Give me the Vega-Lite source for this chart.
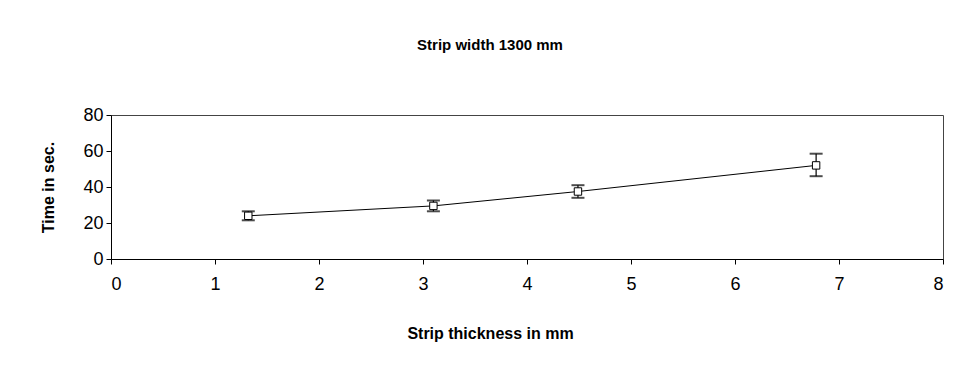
{
  "$schema": "https://vega.github.io/schema/vega-lite/v6.json",
  "width": 832,
  "height": 144,
  "autosize": {"type": "none"},
  "padding": {"left": 111, "top": 115, "right": 19, "bottom": 111},
  "background": "white",
  "title": {
    "text": "Strip width 1300 mm",
    "font": "Liberation Sans",
    "fontSize": 15,
    "fontWeight": "bold",
    "color": "black",
    "anchor": "middle",
    "dx": -37,
    "offset": 53
  },
  "config": {
    "view": {"stroke": "#444", "strokeWidth": 1},
    "axis": {
      "labelFont": "Liberation Sans",
      "labelFontSize": 18,
      "labelColor": "black",
      "labelOverlap": false,
      "titleFont": "Liberation Sans",
      "titleFontSize": 16,
      "titleFontWeight": "bold",
      "titleColor": "black",
      "domainColor": "black",
      "tickColor": "black",
      "grid": false
    }
  },
  "data": {
    "values": [
      {"t": 1.32, "time": 24, "lo": 21.5, "hi": 26.5},
      {"t": 3.1, "time": 29.5, "lo": 26.5, "hi": 32.5},
      {"t": 4.49, "time": 37.5, "lo": 34, "hi": 41},
      {"t": 6.78, "time": 52, "lo": 46, "hi": 58.5}
    ]
  },
  "encoding": {
    "x": {
      "field": "t",
      "type": "quantitative",
      "scale": {"domain": [0, 8], "nice": false},
      "axis": {"values": [0,1,2,3,4,5,6,7,8], "title": "Strip thickness in mm", "tickSize": 5, "labelFontSize": 18, "labelPadding": 11, "titleX": 379, "titlePadding": 32}
    }
  },
  "layer": [
    {
      "mark": {"type": "line", "color": "black", "strokeWidth": 1},
      "encoding": {
        "y": {
          "field": "time",
          "type": "quantitative",
          "scale": {"domain": [0, 80], "nice": false},
          "axis": {"values": [0,20,40,60,80], "labelOverlap": false, "labelFontSize": 18, "title": "Time in sec.", "tickSize": 5, "labelPadding": 3, "titlePadding": 26}
        }
      }
    },
    {
      "mark": {"type": "rule", "color": "black", "strokeWidth": 1.2},
      "encoding": {
        "y": {"field": "lo", "type": "quantitative", "axis": {"values": [0,20,40,60,80], "labelOverlap": false, "labelFontSize": 18, "title": "Time in sec.", "tickSize": 5, "labelPadding": 3, "titlePadding": 26}},
        "y2": {"field": "hi"}
      }
    },
    {
      "mark": {"type": "tick", "orient": "horizontal", "color": "black", "thickness": 2, "size": 13},
      "encoding": {"y": {"field": "lo", "type": "quantitative", "axis": {"values": [0,20,40,60,80], "labelOverlap": false, "labelFontSize": 18, "title": "Time in sec.", "tickSize": 5, "labelPadding": 3, "titlePadding": 26}}}
    },
    {
      "mark": {"type": "tick", "orient": "horizontal", "color": "black", "thickness": 2, "size": 13},
      "encoding": {"y": {"field": "hi", "type": "quantitative", "axis": {"values": [0,20,40,60,80], "labelOverlap": false, "labelFontSize": 18, "title": "Time in sec.", "tickSize": 5, "labelPadding": 3, "titlePadding": 26}}}
    },
    {
      "mark": {"type": "point", "shape": "square", "filled": true, "fill": "white", "stroke": "black", "strokeWidth": 1, "size": 55, "opacity": 1},
      "encoding": {"y": {"field": "time", "type": "quantitative", "axis": {"values": [0,20,40,60,80], "labelOverlap": false, "labelFontSize": 18, "title": "Time in sec.", "tickSize": 5, "labelPadding": 3, "titlePadding": 26}}}
    }
  ]
}
